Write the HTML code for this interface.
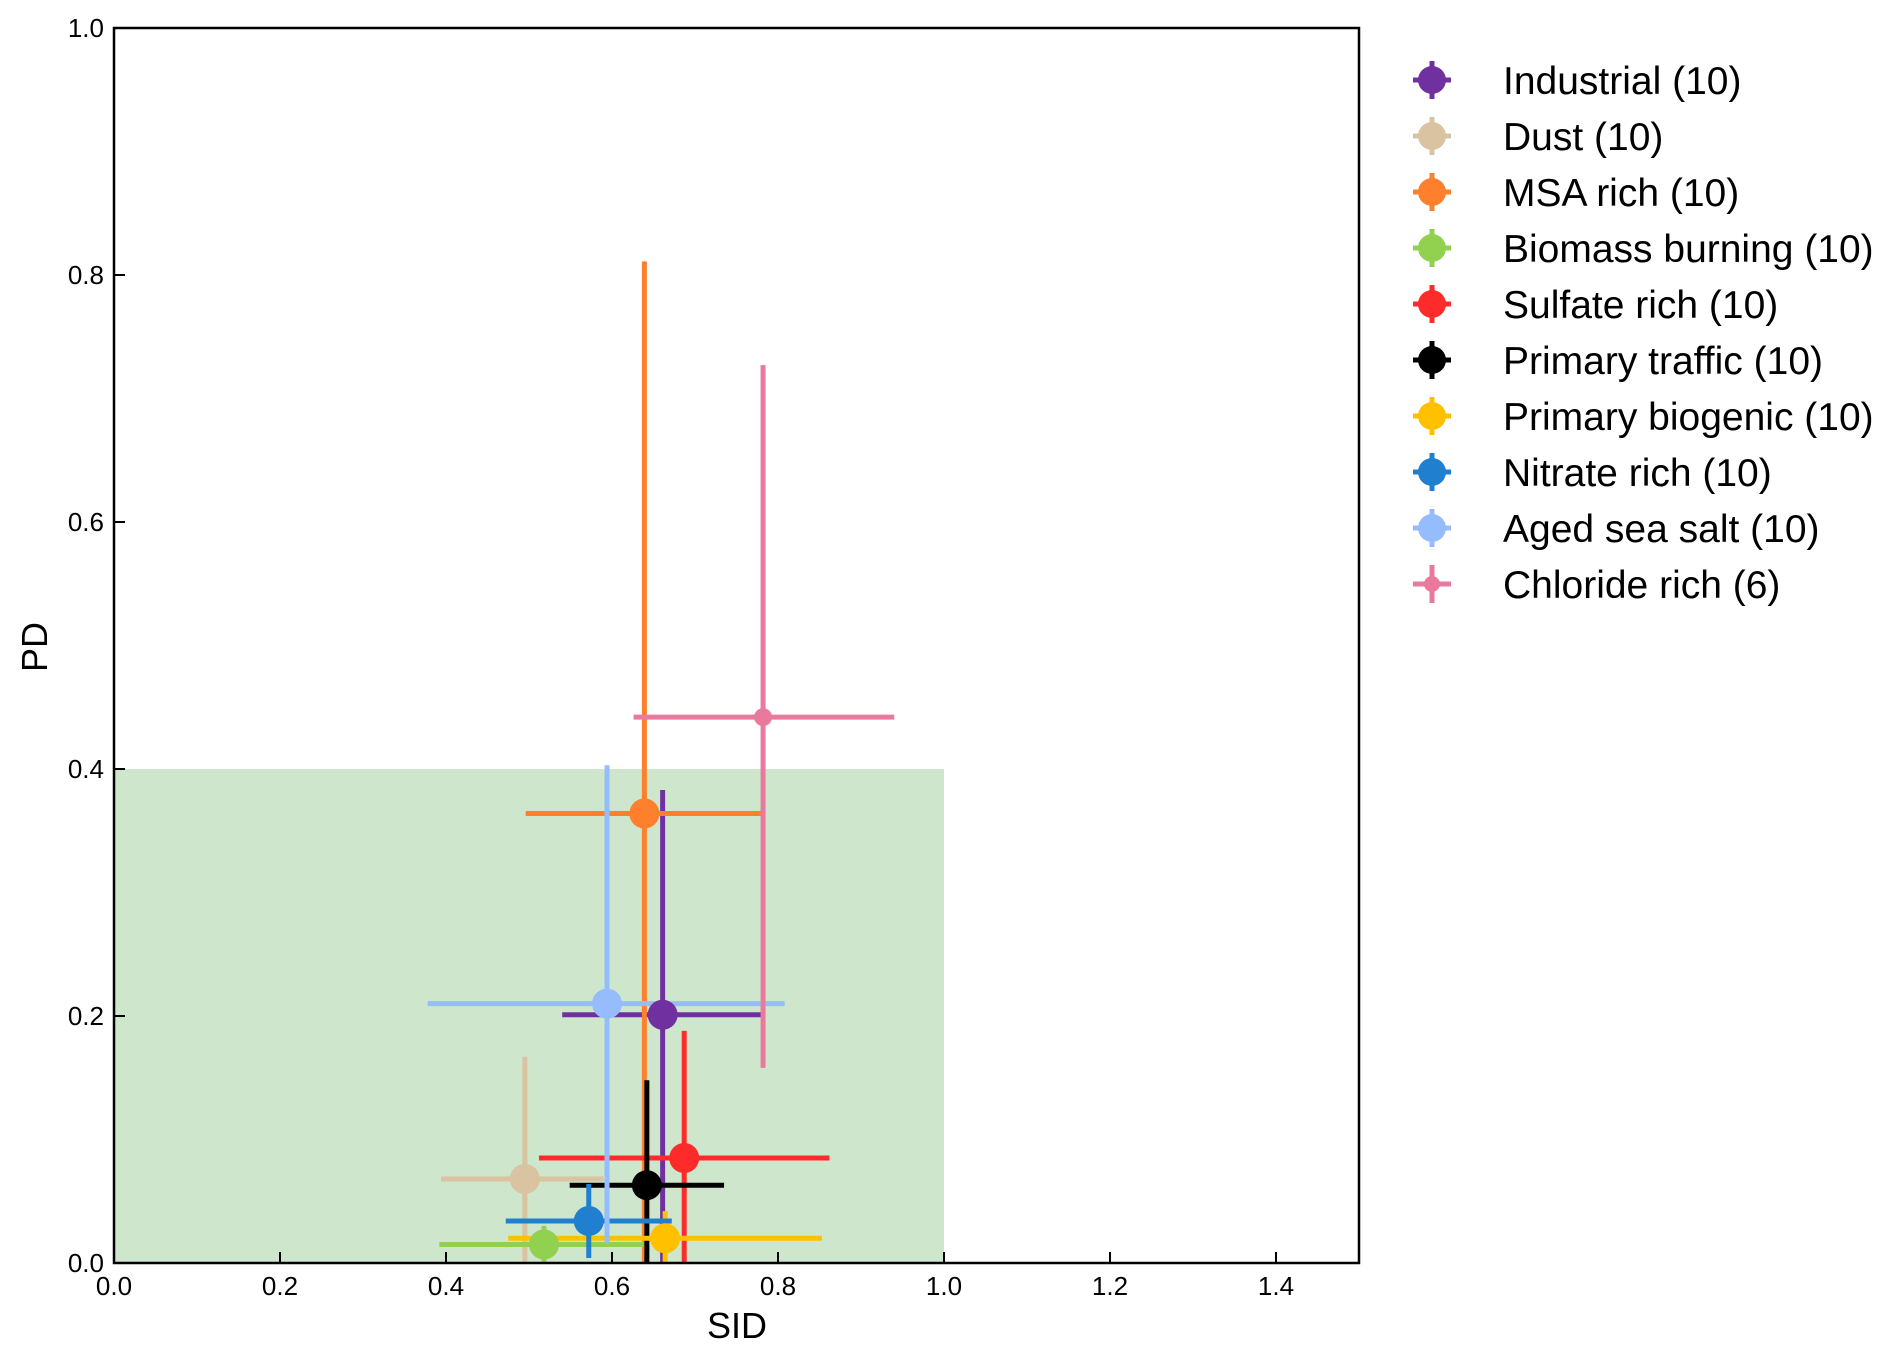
<!DOCTYPE html>
<html><head><meta charset="utf-8"><style>
html,body{margin:0;padding:0;background:#fff;}
svg{display:block;font-family:"Liberation Sans",Arial,sans-serif;}
</style></head><body>
<svg id="chart" width="1892" height="1358" viewBox="0 0 1892 1358" xmlns="http://www.w3.org/2000/svg">
<g id="plot"></g>
<g id="marks"></g>
<g id="axes"></g>
<g id="legend"></g>
</svg>
<script>
const categories = ["Industrial (10)","Dust (10)","MSA rich (10)","Biomass burning (10)","Sulfate rich (10)","Primary traffic (10)","Primary biogenic (10)","Nitrate rich (10)","Aged sea salt (10)","Chloride rich (6)"];
const colors = ["#7030a0","#d9c3a0","#fe7f2c","#92d050","#fe2b2b","#000000","#ffc000","#2080cf","#95bdfe","#e97a9e"];
const sidValues = [0.661,0.495,0.639,0.518,0.687,0.642,0.664,0.572,0.594,0.782];
const pdValues  = [0.201,0.068,0.364,0.015,0.085,0.063,0.020,0.034,0.210,0.442];
const sidLow  = [0.540,0.394,0.496,0.392,0.512,0.549,0.475,0.472,0.378,0.626];
const sidHigh = [0.780,0.590,0.780,0.638,0.862,0.735,0.853,0.672,0.808,0.940];
const pdLow  = [0.000,0.000,0.000,0.000,0.000,0.000,0.000,0.004,0.016,0.158];
const pdHigh = [0.383,0.167,0.811,0.030,0.188,0.148,0.042,0.064,0.403,0.727];
const xTicks = [0.0,0.2,0.4,0.6,0.8,1.0,1.2,1.4];
const yTicks = [0.0,0.2,0.4,0.6,0.8,1.0];
const xTickLabels = ["0.0","0.2","0.4","0.6","0.8","1.0","1.2","1.4"];
const yTickLabels = ["0.0","0.2","0.4","0.6","0.8","1.0"];
const region = {sidMax:1.0, pdMax:0.4};

const L=114,R=1359,T=28,B=1263, XMAX=1.5, YMAX=1.0;
const xs=v=>L+(v/XMAX)*(R-L);
const ys=v=>B-(v/YMAX)*(B-T);
const NS="http://www.w3.org/2000/svg";
function mk(tag,attrs,parent){const e=document.createElementNS(NS,tag);for(const k in attrs)e.setAttribute(k,attrs[k]);parent.appendChild(e);return e;}
const plot=document.getElementById('plot'),marks=document.getElementById('marks'),axes=document.getElementById('axes'),legend=document.getElementById('legend');

let rect=mk('rect',{x:xs(0),y:ys(region.pdMax),width:xs(region.sidMax)-xs(0),height:ys(0)-ys(region.pdMax),fill:"#cde6cc"},plot);



categories.forEach((c,i)=>{
  const g=mk('g',{},plot);
  
  
  const cx=xs(sidValues[i]),cy=ys(pdValues[i]);
  const hl=mk('line',{x1:xs(sidLow[i]),x2:xs(sidHigh[i]),y1:cy,y2:cy,stroke:colors[i],'stroke-width':5},g);
  
  
  const vl=mk('line',{x1:cx,x2:cx,y1:ys(pdLow[i]),y2:ys(pdHigh[i]),stroke:colors[i],'stroke-width':5},g);
  
  
});
categories.forEach((c,i)=>{
  const pt=mk('circle',{cx:xs(sidValues[i]),cy:ys(pdValues[i]),r:i===9?9:15,fill:colors[i]},marks);
  
  
});

let fr=mk('rect',{x:L,y:T,width:R-L,height:B-T,fill:"none",stroke:"#000","stroke-width":2.5},axes);


xTicks.forEach((t,i)=>{
  const x=xs(t);
  const tk=mk('line',{x1:x,x2:x,y1:B,y2:B-11,stroke:"#000","stroke-width":2},axes);
  
  
  const tx=mk('text',{x:x,y:1295,'text-anchor':'middle','font-size':26,fill:"#000"},axes);
  tx.textContent=xTickLabels[i];
  
  
});
yTicks.forEach((t,i)=>{
  const y=ys(t);
  const tk=mk('line',{x1:L,x2:L+11,y1:y,y2:y,stroke:"#000","stroke-width":2},axes);
  
  
  const tx=mk('text',{x:104,y:y+9,'text-anchor':'end','font-size':26,fill:"#000"},axes);
  tx.textContent=yTickLabels[i];
  
  
});
let xt=mk('text',{x:737,y:1338,'text-anchor':'middle','font-size':36,fill:"#000"},axes);
xt.textContent="SID";


let yt=mk('text',{x:0,y:0,'text-anchor':'middle','font-size':36,fill:"#000",transform:"translate(47,647) rotate(-90)"},axes);
yt.textContent="PD";



categories.forEach((c,i)=>{
  const y=80+i*56, x=1432;
  const g=mk('g',{},legend);
  
  
  mk('line',{x1:x-19,x2:x+19,y1:y,y2:y,stroke:colors[i],'stroke-width':5},g);
  mk('line',{x1:x,x2:x,y1:y-19,y2:y+19,stroke:colors[i],'stroke-width':5},g);
  mk('circle',{cx:x,cy:y,r:i===9?8:14,fill:colors[i]},g);
  const t=mk('text',{x:1503,y:y+14,'font-size':39,fill:"#000"},g);
  t.textContent=c;
});
</script>
</body></html>
